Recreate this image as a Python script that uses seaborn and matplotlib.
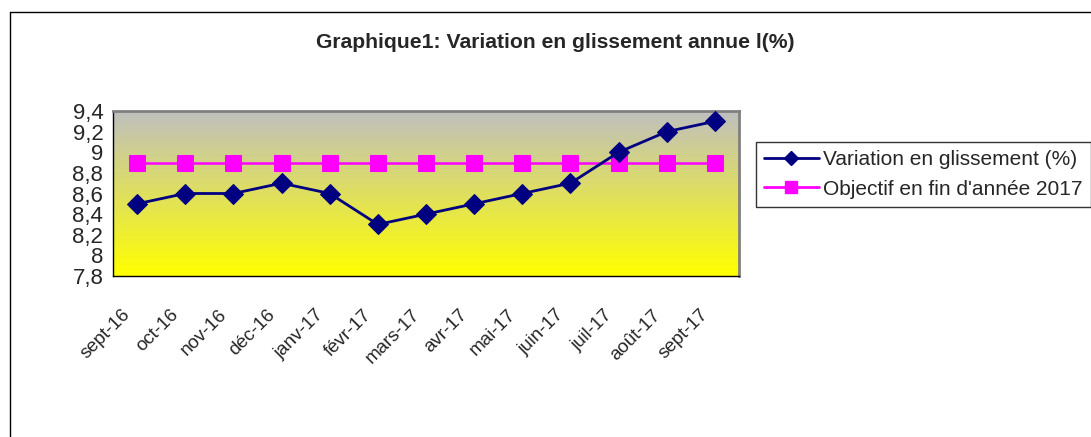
import numpy as np
import pandas as pd
import matplotlib
matplotlib.use("Agg")
import matplotlib.pyplot as plt
from matplotlib.lines import Line2D
from matplotlib.ticker import FixedLocator
from matplotlib.transforms import ScaledTranslation
import seaborn as sns

# donnees
mois = ["sept-16", "oct-16", "nov-16", "déc-16", "janv-17", "févr-17", "mars-17",
        "avr-17", "mai-17", "juin-17", "juil-17", "août-17", "sept-17"]
variation = [8.5, 8.6, 8.6, 8.7, 8.6, 8.3, 8.4, 8.5, 8.6, 8.7, 9.0, 9.2, 9.3]
objectif = [8.9] * 13
yticks = [7.8, 8.0, 8.2, 8.4, 8.6, 8.8, 9.0, 9.2, 9.4]
ylabels = ["7,8", "8", "8,2", "8,4", "8,6", "8,8", "9", "9,2", "9,4"]

sns.set_style("white")
plt.rcParams["font.family"] = ["Liberation Sans", "DejaVu Sans"]

W, H = 1091, 437
fig = plt.figure(figsize=(W / 100, H / 100), dpi=100)
ax = fig.add_axes([113 / W, 1 - 276 / H, (739 - 113) / W, (276 - 111) / H])

tabela = pd.DataFrame({"pos": np.arange(len(mois)), "variation": variation, "objectif": objectif})

# fond degrade gris -> jaune
grad = np.linspace(0, 1, 256).reshape(-1, 1)
top = np.array([0.75, 0.75, 0.75])
bot = np.array([1.0, 1.0, 0.0])
img = top * (1 - grad[..., None]) + bot * grad[..., None]
img = img.reshape(256, 1, 3)
ax.imshow(img, extent=[0, 1, 0, 1], transform=ax.transAxes, aspect="auto", zorder=0)

sns.lineplot(data=tabela, x="pos", y="objectif", ax=ax, color="#FF00FF", lw=1.8,
             marker="s", markersize=11, markeredgecolor="#FF00FF", zorder=3)
sns.lineplot(data=tabela, x="pos", y="variation", ax=ax, color="#000080", lw=2,
             marker="D", markersize=10, markeredgecolor="#000080", zorder=4)

ax.set_xlim(-0.5, len(mois) - 0.5)
ax.set_ylim(7.8, 9.4)
ax.set_yticks(yticks)
ax.set_yticklabels(ylabels, fontsize=16)
ax.set_xticks(np.arange(len(mois)))
ax.set_xticklabels(mois, fontsize=13.5, rotation=45, ha="right", va="center",
                   rotation_mode="anchor")
ax.xaxis.set_minor_locator(FixedLocator(np.arange(-0.5, len(mois), 1)))
ax.tick_params(axis="x", which="major", length=0, pad=24)
ax.tick_params(axis="x", which="minor", length=5, width=1, color="black", direction="out")
ax.tick_params(axis="y", length=5, width=1, color="black", direction="out", pad=2)
# decalage des etiquettes (apres tick_params, sinon reinitialise)
off = ScaledTranslation(-9 / 100, -3 / 100, fig.dpi_scale_trans)
for lab in ax.get_xticklabels():
    lab.set_transform(lab.get_transform() + off)
ax.set_xlabel("")
ax.set_ylabel("")
for s in ["left", "bottom"]:
    ax.spines[s].set_color("black")
    ax.spines[s].set_linewidth(1)
for s in ["top", "right"]:
    ax.spines[s].set_color("#808080")
    ax.spines[s].set_linewidth(2)

fig.text(555 / W, 1 - 42 / H, "Graphique1: Variation en glissement annue l(%)",
         ha="center", va="center", fontsize=15.2, fontweight="bold")

# cadre exterieur
fig.add_artist(Line2D([10 / W, 1], [1 - 12 / H, 1 - 12 / H], color="black", lw=1))
fig.add_artist(Line2D([10 / W, 10 / W], [0, 1 - 12 / H], color="black", lw=1))

handles = [
    Line2D([], [], color="#000080", lw=2, marker="D", markersize=7),
    Line2D([], [], color="#FF00FF", lw=2, marker="s", markersize=8),
]
leg = fig.legend(handles, ["Variation en glissement (%)", "Objectif en fin d'année 2017"],
                 loc="upper left", bbox_to_anchor=(756 / W, 1 - 142 / H), borderaxespad=0,
                 fontsize=15, frameon=True, fancybox=False, edgecolor="black",
                 handlelength=2.6, handletextpad=0.2, borderpad=0.4, labelspacing=0.5)
leg.get_frame().set_linewidth(1)

fig.savefig("out.png", dpi=100)
